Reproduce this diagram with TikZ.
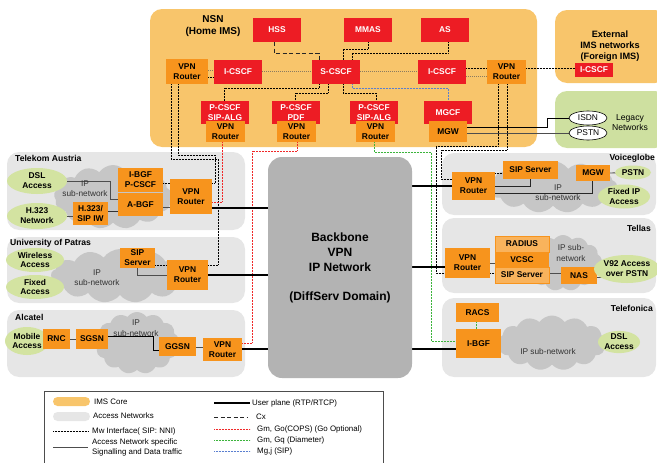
\documentclass[tikz,border=0pt]{standalone}
\usepackage{fontspec}
\setmainfont{Liberation Sans}
\usetikzlibrary{shapes.geometric,shapes.symbols}
\definecolor{nsnc}{HTML}{F8C56B}
\definecolor{orng}{HTML}{F7941D}
\definecolor{imsred}{HTML}{ED1C24}
\definecolor{accg}{HTML}{E6E6E6}
\definecolor{bbg}{HTML}{B3B3B3}
\definecolor{cldg}{HTML}{C6C6C6}
\definecolor{grn}{HTML}{D3E3A1}
\definecolor{lgrn}{HTML}{CEE0A0}
\definecolor{linec}{HTML}{4D4D4D}
\definecolor{mwbc}{HTML}{8A7B60}
\definecolor{radc}{HTML}{F9B35C}
\definecolor{txtg}{HTML}{333333}
\definecolor{gmred}{HTML}{F02828}
\definecolor{gqgrn}{HTML}{3CB43C}
\definecolor{mgblue}{HTML}{5A7FD0}
\pgfdeclarelayer{back}
\pgfdeclarelayer{mid}
\pgfsetlayers{back,mid,main}
\newcommand{\myfs}[2]{\fontsize{#1}{#2}\selectfont}
\tikzset{
  wh/.style 2 args={minimum width=#1pt, minimum height=#2pt},
  nbase/.style={inner sep=0pt, align=center, font=\bfseries\myfs{8.4}{9.8}},
  redbox/.style={nbase, fill=imsred, text=white},
  obox/.style={nbase, fill=orng, text=black},
  hbox/.style={nbase, fill=radc, draw=orng, line width=0.4pt},
  gell/.style={nbase, ellipse, fill=grn},
  well/.style={nbase, font=\myfs{8.4}{9.8}, ellipse, draw=black, fill=white, line width=0.6pt},
  regn/.style={rounded corners=12pt},
  cld/.style={cloud, cloud puffs=13, cloud puff arc=110, cloud ignores aspect, fill=cldg, inner sep=0pt},
  subnet/.style={inner sep=0pt, align=center, text=txtg, font=\myfs{8.3}{10}},
  alabel/.style={inner sep=0pt, font=\bfseries\myfs{8.6}{10}},
  legt/.style={inner sep=0pt, anchor=west, align=left, font=\myfs{7.9}{10}},
  mw/.style={black, line width=0.6pt, dash pattern=on 0.7pt off 0.8pt},
  mwb/.style={mwbc, line width=1pt, dash pattern=on 1pt off 1pt},
  cx/.style={black!85, line width=0.9pt, dash pattern=on 4pt off 2.5pt},
  gm/.style={gmred, line width=0.6pt, dash pattern=on 0.7pt off 0.8pt},
  gq/.style={gqgrn, line width=0.6pt, dash pattern=on 0.7pt off 0.8pt},
  mgj/.style={mgblue, line width=0.6pt, dash pattern=on 0.7pt off 0.8pt},
  acc/.style={linec, line width=0.9pt},
  user/.style={black, line width=2.6pt},
}
\begin{document}
\begin{tikzpicture}[x=1pt,y=-1pt]
\useasboundingbox (0,0) rectangle (657,463);
\begin{pgfonlayer}{back}
  % regions
  \fill[nsnc, regn] (150,9) rectangle (537,147);
  \fill[nsnc, regn] (555,10) rectangle (667,83);
  \fill[lgrn, regn] (555,91) rectangle (667,148);
  \fill[accg, regn] (7,152) rectangle (245,230);
  \fill[accg, regn] (7,237) rectangle (245,303);
  \fill[accg, regn] (7,310) rectangle (245,377);
  \fill[accg, regn] (442,153) rectangle (656,215);
  \fill[accg, regn] (442,218) rectangle (656,293);
  \fill[accg, regn] (442,298) rectangle (656,377);
  % clouds
  \node[cld, wh={118}{64}] (cl1) at (113,197) {};
  \node[cld, wh={138}{54}] (cl2) at (120,276) {};
  \node[cld, wh={84}{62}] (cl3) at (137,343) {};
  \node[cld, wh={128}{52}] (cl4) at (553,187) {};
  \node[cld, wh={78}{56}] (cl5) at (563,263) {};
  \node[cld, wh={108}{55}] (cl6) at (552,343) {};
\end{pgfonlayer}

% ---- titles
\node[nbase, font=\bfseries\myfs{10}{12}] (nsnt) at (213,26) {NSN\\(Home IMS)};
\node[nbase, font=\bfseries\myfs{9.2}{11}] (extt) at (610,46) {External\\IMS networks\\(Foreign IMS)};
\node[nbase, font=\myfs{8.6}{10}] (legtx) at (630,123) {Legacy\\Networks};
\node[alabel, anchor=west] (lta) at (15,158) {Telekom Austria};
\node[alabel, anchor=west] (lup) at (10,243) {University of Patras};
\node[alabel, anchor=west] (lal) at (15,317) {Alcatel};
\node[alabel, anchor=east] (lvg) at (655,158) {Voiceglobe};
\node[alabel, anchor=east] (lte) at (651,228) {Tellas};
\node[alabel, anchor=east] (ltf) at (653,308) {Telefonica};

% ---- NSN nodes
\node[redbox, wh={48}{24}] (hss) at (277,30) {HSS};
\node[redbox, wh={48}{24}] (mmas) at (368,30) {MMAS};
\node[redbox, wh={48}{24}] (as) at (445,30) {AS};
\node[obox, wh={42}{25}] (vpnA) at (187,71.5) {VPN\\Router};
\node[redbox, wh={48}{24}] (icscfA) at (238,72) {I-CSCF};
\node[redbox, wh={48}{24}] (scscf) at (336,72) {S-CSCF};
\node[redbox, wh={48}{24}] (icscfB) at (442,72) {I-CSCF};
\node[obox, wh={39}{24}] (vpnB) at (506.5,72) {VPN\\Router};
\node[redbox, wh={48}{23}] (pcscf1) at (225,112.5) {P-CSCF\\SIP-ALG};
\node[obox, wh={39}{21}] (vpn1) at (225.5,131.5) {VPN\\Router};
\node[redbox, wh={48}{23}] (pcscf2) at (296,112.5) {P-CSCF\\PDF};
\node[obox, wh={39}{21}] (vpn2) at (296.5,131.5) {VPN\\Router};
\node[redbox, wh={48}{23}] (pcscf3) at (374,112.5) {P-CSCF\\SIP-ALG};
\node[obox, wh={39}{21}] (vpn3) at (375.5,131.5) {VPN\\Router};
\node[redbox, wh={48}{23}] (mgcf) at (448,112.5) {MGCF};
\node[obox, wh={38}{21}] (mgw) at (448,131.5) {MGW};
\node[redbox, wh={38}{14}] (icscfE) at (594,70) {I-CSCF};
\node[well, wh={38}{14}] (isdn) at (588,118) {ISDN};
\node[well, wh={38}{14}] (pstnL) at (588,133) {PSTN};

% ---- Backbone
\node[nbase, fill=bbg, rounded corners=14pt, wh={144}{221}, font=\bfseries\myfs{12}{15}] (backbone) at (340,267.5)
  {Backbone\\VPN\\IP Network\\[14pt](DiffServ Domain)};

% ---- Telekom Austria
\node[gell, wh={60}{26}] (dsl) at (37,181) {DSL\\Access};
\node[gell, wh={60}{26}] (h323n) at (37,216) {H.323\\Network};
\node[subnet] (sn1) at (85,189) {IP\\sub-network};
\node[obox, wh={45}{24}] (ibgf) at (140.5,180) {I-BGF\\P-CSCF};
\node[obox, wh={45}{23}] (abgf) at (140.5,204.5) {A-BGF};
\node[obox, wh={35}{23}] (iw) at (90.5,213.5) {H.323/\\SIP IW};
\node[obox, wh={42}{35}] (vpnT) at (191,196.5) {VPN\\Router};

% ---- Patras
\node[gell, wh={58}{24}] (wireless) at (35,260) {Wireless\\Access};
\node[gell, wh={58}{24}] (fixed) at (35,287) {Fixed\\Access};
\node[subnet] (sn2) at (97,278) {IP\\sub-network};
\node[obox, wh={35}{20}] (sipP) at (137.5,258) {SIP\\Server};
\node[obox, wh={41}{30}] (vpnP) at (187.5,275) {VPN\\Router};

% ---- Alcatel
\node[gell, wh={44}{28}] (mobile) at (27,341) {Mobile\\Access};
\node[subnet, font=\myfs{8.3}{11}] (sn3) at (136,328.5) {IP\\sub-network};
\node[obox, wh={27}{20}] (rnc) at (56.5,339) {RNC};
\node[obox, wh={32}{20}] (sgsn) at (92,339) {SGSN};
\node[obox, wh={37}{19}] (ggsn) at (177.5,346.5) {GGSN};
\node[obox, wh={39}{23}] (vpnAl) at (222.5,349.5) {VPN\\Router};

% ---- Voiceglobe
\node[subnet] (sn4) at (558,193) {IP\\sub-network};
\node[obox, wh={43}{28}] (vpnV) at (473.5,186) {VPN\\Router};
\node[obox, wh={55}{18}] (sipV) at (530.5,170) {SIP Server};
\node[obox, wh={34}{16}] (mgwV) at (593,173) {MGW};
\node[gell, wh={36}{14}] (pstnV) at (633,172.5) {PSTN};
\node[gell, wh={52}{24}] (fixedIP) at (624,196.5) {Fixed IP\\Access};

% ---- Tellas
\node[subnet, font=\myfs{8.3}{11.5}] (sn5) at (571,253) {IP sub-\\network};
\node[obox, wh={45}{30}] (vpnTe) at (467.5,263) {VPN\\Router};
\node[hbox, wh={54}{16}] (radius) at (522,244) {RADIUS};
\node[obox, wh={54}{15}] (vcsc) at (522,259.5) {VCSC};
\node[hbox, wh={54}{16}] (sipTe) at (522,275) {SIP Server};
\node[obox, wh={36}{17}] (nas) at (579,275.5) {NAS};
\node[gell, wh={56}{28}] (v92) at (627,269) {V92 Access\\over PSTN};

% ---- Telefonica
\node[subnet] (sn6) at (548,352) {IP sub-network};
\node[obox, wh={43}{19}] (racs) at (477.5,312.5) {RACS};
\node[obox, wh={45}{29}] (ibgfT) at (478.5,343.5) {I-BGF};
\node[gell, wh={42}{22}] (dslT) at (619,342) {DSL\\Access};

\begin{pgfonlayer}{mid}
  % NSN internal
  \draw[cx] (hss.south -| 274,0) |- (319,53) -- (scscf.north -| 319,0);
  \draw[mw] (mmas.south) |- (343,49) -- (scscf.north -| 343,0);
  \draw[mw] (as.south -| 448,0) |- (352,53) -- (scscf.north -| 352,0);
  \draw[mwb] (vpnA.east |- 0,70) -- (icscfA.west |- 0,70);
  \draw[mw] (vpnA.east |- 0,77) -- (icscfA.west |- 0,77);
  \draw[mwb] (icscfA.east |- 0,71) -- (scscf.west |- 0,71);
  \draw[mwb] (scscf.east |- 0,71) -- (icscfB.west |- 0,71);
  \draw[mw] (icscfB.east |- 0,68) -- (vpnB.west |- 0,68);
  \draw[mwb] (icscfB.east |- 0,76) -- (vpnB.west |- 0,76);
  \draw[mw] (vpnB.east |- 0,68) -- (icscfE.west |- 0,68);
  \draw[mw] (scscf.south -| 319,0) |- (224,88) -- (pcscf1.north -| 224,0);
  \draw[mw] (scscf.south -| 328,0) |- (295,93) -- (pcscf2.north -| 295,0);
  \draw[mw] (scscf.south -| 343,0) |- (376,93) -- (pcscf3.north -| 376,0);
  \draw[mgj] (scscf.south -| 352,0) |- (448,88) -- (mgcf.north);
  \draw[black, line width=0.9pt] (mgw.east |- 0,127) -| (547,118) -- (isdn.west);
  \draw[acc] (mgw.east |- 0,133) -- (pstnL.west);
  % from NSN down
  \draw[mw] (vpnA.south -| 178,0) |- (215,155) |- (vpnT.east |- 0,183);
  \draw[mw] (vpnA.south -| 171,0) |- (218,159) |- (vpnP.east |- 0,265);
  \draw[gm] (vpn1.south -| 222,0) |- (vpnT.east |- 0,202);
  \draw[gm] (vpn2.south -| 297,0) |- (252,151) |- (vpnAl.east |- 0,343);
  \draw[gq] (vpn3.south -| 374,0) |- (431,152) |- (ibgfT.west |- 0,341);
  \draw[mw] (vpnB.south -| 498,0) |- (436,146) |- (vpnTe.west |- 0,273);
  \draw[mw] (vpnB.south -| 507,0) |- (441,150) |- (vpnV.west |- 0,179);
  % user plane
  \draw[user] (vpnT.east |- 0,208) -- (backbone.west |- 0,208);
  \draw[user] (vpnP.east |- 0,275) -- (backbone.west |- 0,275);
  \draw[user] (vpnAl.east |- 0,349) -- (backbone.west |- 0,349);
  \draw[user] (backbone.east |- 0,186) -- (vpnV.west |- 0,186);
  \draw[user] (backbone.east |- 0,267) -- (vpnTe.west |- 0,267);
  \draw[user] (backbone.east |- 0,349) -- (ibgfT.west |- 0,349);
  % Telekom
  \draw[acc] (dsl.east) -| (110,199) -- (abgf.west |- 0,199);
  \draw[acc] (h323n.east) -- (iw.west |- 0,216);
  \draw[acc, black!80] (iw.east |- 0,211) -- (abgf.west |- 0,211);
  \draw[acc] (abgf.east |- 0,207) -- (vpnT.west |- 0,207);
  \draw[mw] (ibgf.east |- 0,183) -- (vpnT.west |- 0,183);
  % Patras
  \draw[mw] (sipP.east |- 0,265) -- (vpnP.west |- 0,265);
  \draw[acc] (sipP.south -| 137,0) |- (vpnP.west |- 0,275);
  % Alcatel
  \draw[acc] (rnc) -- (sgsn);
  \draw[black, line width=0.9pt] (sgsn.east |- 0,336) -| (153,350) -- (ggsn.west |- 0,350);
  \draw[acc] (ggsn.east |- 0,347) -- (vpnAl.west |- 0,347);
  % Voiceglobe
  \draw[mw] (vpnV.east |- 0,173) -- (sipV.west |- 0,173);
  \draw[black!85, line width=0.9pt] (sipV.south -| 530,0) |- (vpnV.east |- 0,186);
  \draw[black!85, line width=0.9pt] (mgwV.south -| 592,0) |- (vpnV.east |- 0,193);
  \draw[acc] (mgwV.east |- 0,173) -- (pstnV.center);
  % Tellas
  \draw[acc] (vpnTe.east |- 0,263) -- (vcsc.west |- 0,263);
  \draw[mw] (vpnTe.east |- 0,273) -- (sipTe.west |- 0,273);
  \draw[acc] (sipTe.east |- 0,273) -- (nas.west |- 0,273);
  \draw[acc] (nas.east |- 0,277) -- (v92.center |- 0,277);
  % Telefonica
  \draw[gq] (racs.south -| 476,0) -- (ibgfT.north -| 476,0);
\end{pgfonlayer}

% ---- Legend
\draw[linec, line width=0.8pt] (44,470) |- (383,391) -- (383,470);
\fill[nsnc, rounded corners=4.5pt] (53,397) rectangle (90,406);
\node[legt] (lg1) at (94,402) {IMS Core};
\fill[accg, rounded corners=4.5pt] (53,412) rectangle (90,421);
\node[legt] (lg2) at (93,416) {Access Networks};
\draw[mw] (53,431) -- (88,431);
\node[legt] (lg3) at (92,431) {Mw Interface( SIP: NNI)};
\draw[acc] (53,447) -- (88,447);
\node[legt] (lg4) at (92,447) {Access Network specific\\Signalling and Data traffic};
\draw[user] (214,403) -- (250,403);
\node[legt] (lg5) at (252,403) {User plane (RTP/RTCP)};
\draw[cx] (214,417) -- (248,417);
\node[legt] (lg6) at (256,417) {Cx};
\draw[gm] (214,429) -- (250,429);
\node[legt] (lg7) at (257,429) {Gm, Go(COPS) (Go Optional)};
\draw[gq] (214,440) -- (250,440);
\node[legt] (lg8) at (257,440) {Gm, Gq (Diameter)};
\draw[mgj] (214,451) -- (250,451);
\node[legt] (lg9) at (257,451) {Mg,j (SIP)};
\end{tikzpicture}
\end{document}
